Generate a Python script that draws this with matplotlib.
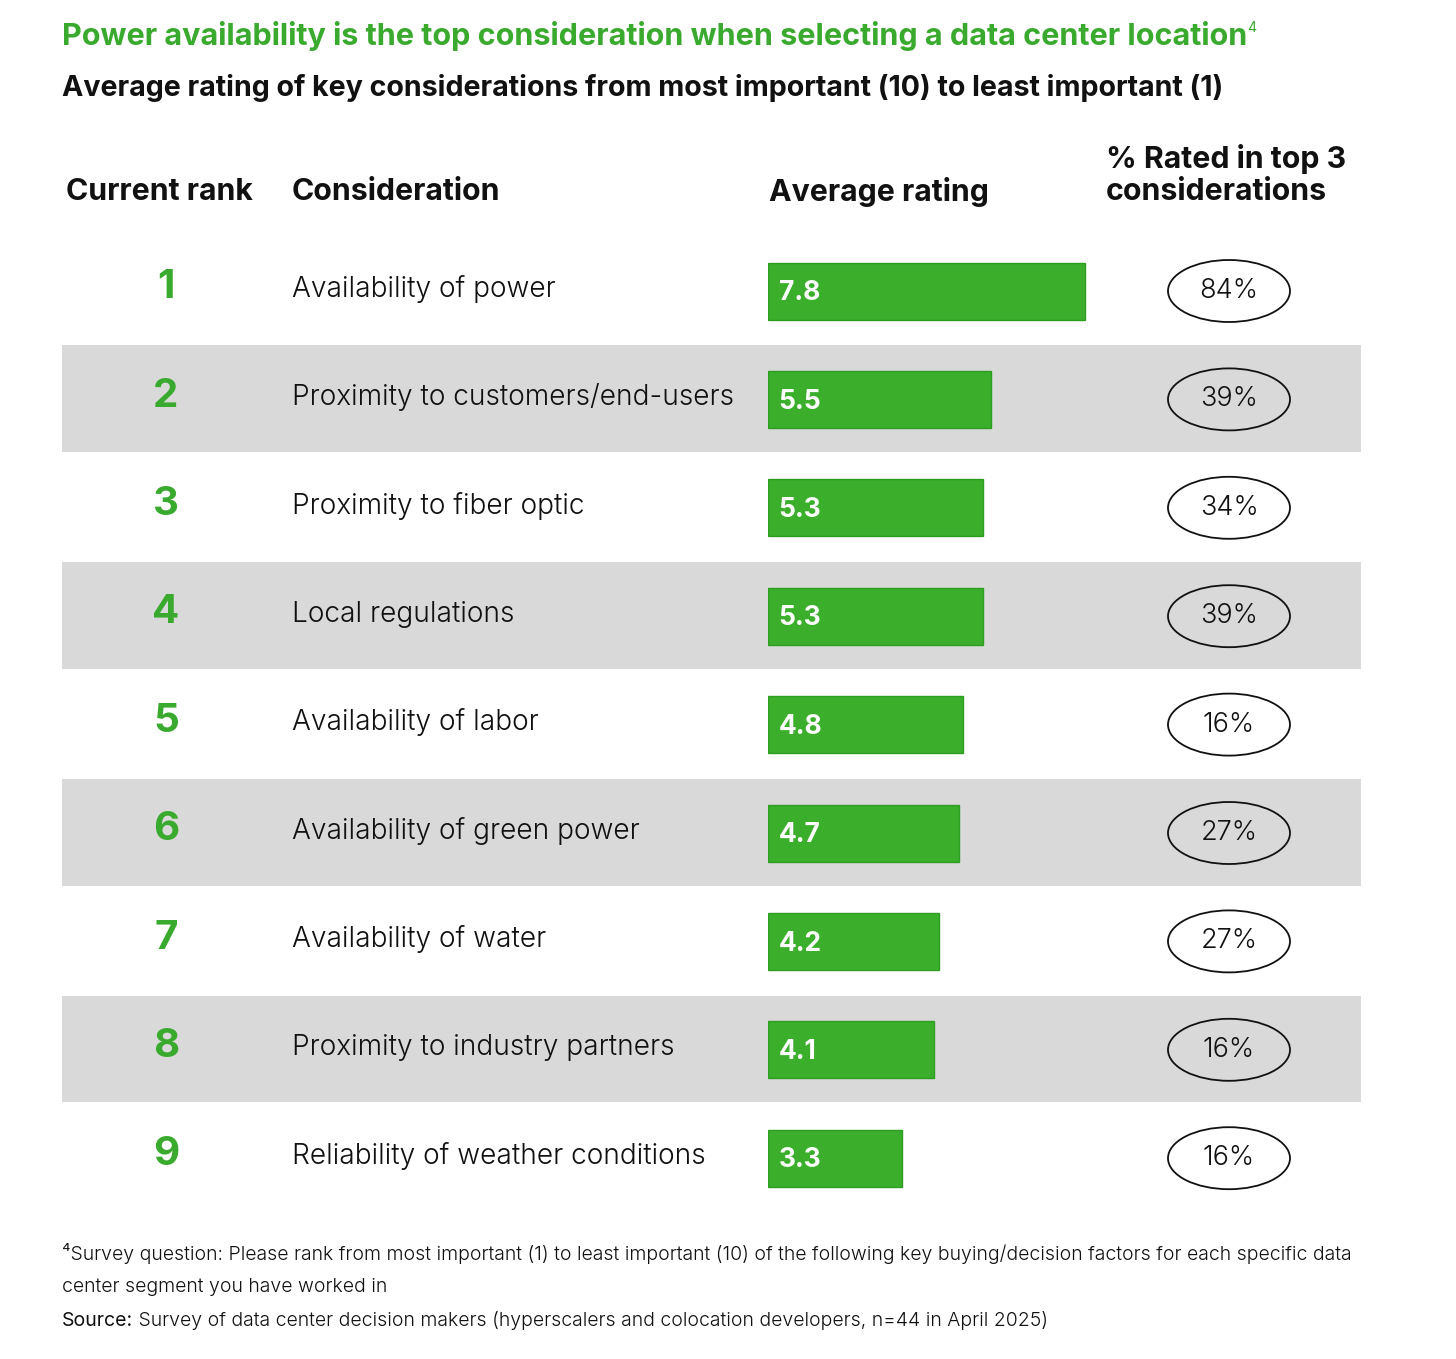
import matplotlib
matplotlib.use("Agg")
import matplotlib.pyplot as plt
from matplotlib.patches import Rectangle, Ellipse
from matplotlib import font_manager as fm

# ---- data ----
ranks = [1, 2, 3, 4, 5, 6, 7, 8, 9]
considerations = [
    "Availability of power",
    "Proximity to customers/end-users",
    "Proximity to fiber optic",
    "Local regulations",
    "Availability of labor",
    "Availability of green power",
    "Availability of water",
    "Proximity to industry partners",
    "Reliability of weather conditions",
]
avg_rating = [7.8, 5.5, 5.3, 5.3, 4.8, 4.7, 4.2, 4.1, 3.3]
pct_top3 = [84, 39, 34, 39, 16, 27, 27, 16, 16]

title = "Power availability is the top consideration when selecting a data center location"
title_sup = "4"
subtitle = "Average rating of key considerations from most important (10) to least important (1)"
headers = ["Current rank", "Consideration", "Average rating", "% Rated in top 3\nconsiderations"]
footnote1 = "\u2074Survey question: Please rank from most important (1) to least important (10) of the following key buying/decision factors for each specific data"
footnote2 = "center segment you have worked in"
source_lbl = "Source:"
source_txt = " Survey of data center decision makers (hyperscalers and colocation developers, n=44 in April 2025)"

GREEN = "#3BAE2B"
GREEN_T = "#3AAA2F"
GREY = "#D9D9D9"

ttf = fm.fontManager.ttflist
names = {f.name for f in ttf}
FAM = "Inter" if "Inter" in names else "DejaVu Sans"
LIGHT_FAM, LIGHT_W = FAM, "normal"
for cand in ["Inter", "Roboto", "Lato", "Open Sans", "Noto Sans"]:
    ws = [f.weight for f in ttf if f.name == cand and isinstance(f.weight, int) and f.weight <= 300]
    if ws:
        LIGHT_FAM, LIGHT_W = cand, max(ws)
        break
plt.rcParams["font.family"] = [FAM, "DejaVu Sans"]
LIGHT = dict(family=[LIGHT_FAM, "DejaVu Sans"], fontweight=LIGHT_W)

W, H = 1456, 1359
fig = plt.figure(figsize=(W / 100, H / 100), dpi=100)
fig.patch.set_facecolor("white")

def fx(x):
    return x / W

def fy(y):
    return 1 - y / H

# row geometry (pixels)
row0 = 291.0
step = 108.4
top = row0 - step / 2
bot = row0 + step * 8.5
n = len(ranks)

ax = fig.add_axes([0, fy(bot), 1, (bot - top) / H])
ax.set_xlim(0, W)
ax.set_ylim(n - 0.5, -0.5)
ax.axis("off")

for i in range(n):
    if i % 2 == 1:
        ax.add_patch(Rectangle((62, i - 0.5), 1299, 0.985, facecolor=GREY, edgecolor="none", zorder=0))
    ax.text(166, i - 0.03, str(ranks[i]), ha="center", va="center", color=GREEN_T,
            fontsize=29, fontweight="bold")
    ax.text(292, i - 0.02, considerations[i], ha="left", va="center", color="#111111",
            fontsize=20.2, **LIGHT)
    ax.add_patch(Ellipse((1229, i), 122, 62 / step, facecolor="none", edgecolor="#111111",
                         lw=1.3, zorder=2))
    ax.text(1229, i, f"{pct_top3[i]}%", ha="center", va="center", color="#111111",
            fontsize=19.5, zorder=3, **LIGHT)

axb = fig.add_axes([fx(768), fy(bot), 40.6 * 10 / W, (bot - top) / H])
axb.set_xlim(0, 10)
axb.set_ylim(n - 0.5, -0.5)
axb.axis("off")
axb.barh(range(n), avg_rating, height=57 / step, color=GREEN, edgecolor="#2E9E22", lw=1, zorder=2)
for i, v in enumerate(avg_rating):
    axb.text(0.26, i + 0.02, f"{v}", ha="left", va="center", color="white",
             fontsize=19, fontweight="bold", zorder=3)

r = fig.canvas.get_renderer()

# titles
tt = fig.text(fx(62), fy(36), title, ha="left", va="center", color=GREEN_T, fontsize=22, fontweight="bold")
bb = tt.get_window_extent(renderer=r)
fig.text(bb.x1 / W, fy(28), title_sup, ha="left", va="center", color=GREEN_T, fontsize=10)
fig.text(fx(62), fy(88), subtitle, ha="left", va="center", color="#111111", fontsize=20.6, fontweight="bold")

# headers
hs = 21.8
fig.text(fx(66), fy(192), headers[0], ha="left", va="center", fontsize=hs, fontweight="bold", color="#111111")
fig.text(fx(292), fy(192), headers[1], ha="left", va="center", fontsize=hs, fontweight="bold", color="#111111")
fig.text(fx(769), fy(192), headers[2], ha="left", va="center", fontsize=hs, fontweight="bold", color="#111111")
fig.text(fx(1106), fy(175), headers[3], ha="left", va="center", fontsize=hs, fontweight="bold",
         color="#111111", linespacing=1.15)

# footer
fs = 14
fig.text(fx(62), fy(1254), footnote1, ha="left", va="center", fontsize=fs, color="#111111", **LIGHT)
fig.text(fx(62), fy(1287), footnote2, ha="left", va="center", fontsize=fs, color="#111111", **LIGHT)
t = fig.text(fx(62), fy(1321), source_lbl, ha="left", va="center", fontsize=fs, color="#111111")
bb = t.get_window_extent(renderer=r)
fig.text(bb.x1 / W, fy(1321), source_txt, ha="left", va="center", fontsize=fs, color="#111111", **LIGHT)

fig.savefig("out.png", dpi=100, facecolor="white")
